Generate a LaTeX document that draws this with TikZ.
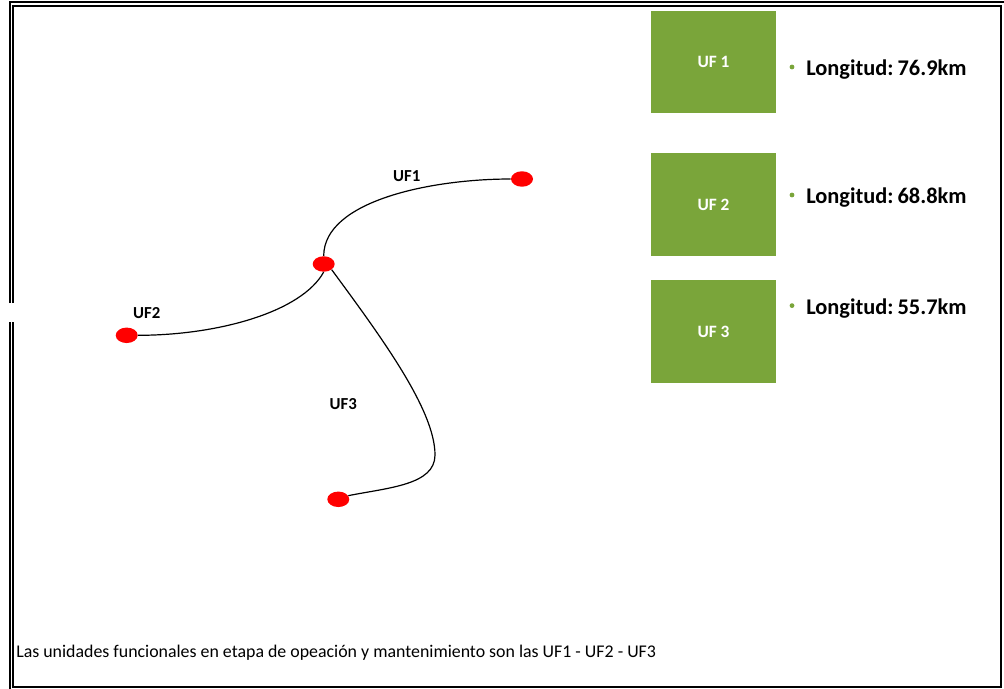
\documentclass[tikz,border=0pt]{standalone}
\usepackage{fontspec}
\setmainfont{Carlito}
\usetikzlibrary{shapes.geometric}
\definecolor{ufgreen}{RGB}{122,165,58}
\definecolor{ufred}{RGB}{255,0,0}
\begin{document}
\begin{tikzpicture}[x=0.75pt,y=-0.75pt,
  frame/.style={line width=1.5pt},
  site/.style={ellipse, fill=ufred, draw=none, minimum width=16.5pt, minimum height=11.6pt, inner sep=0pt},
  wire/.style={line width=0.9pt, black},
  wlabel/.style={font=\bfseries\fontsize{12.6}{14}\selectfont, inner sep=0pt},
  ufbox/.style={fill=ufgreen, minimum width=93.75pt, minimum height=77pt, inner sep=0pt, text=white, font=\bfseries\fontsize{13}{15}\selectfont},
  bulletdot/.style={circle, fill=ufgreen, minimum size=3.6pt, inner sep=0pt},
  lenlabel/.style={anchor=base west, inner sep=0pt, font=\bfseries\fontsize{16.8}{19}\selectfont},
  note/.style={anchor=base west, inner sep=0pt, font=\fontsize{13.4}{16}\selectfont}]
\useasboundingbox (0,0) rectangle (1004,689);
% frame
\draw[frame] (10,303) -- (10,2) -- (1004,2);
\draw[frame] (10,322) -- (10,689);
\draw[frame] (13,303) -- (13,6) -- (1001,6) -- (1001,687) -- (13,687) -- (13,322);
% sites
\node[site] (c) at (323.7,264) {};
\node[site] (n1) at (522,179) {};
\node[site] (n2) at (126.7,335.3) {};
\node[site] (n3) at (338.3,499.3) {};
\coordinate (bend) at (435,455);
% connectors
\draw[wire] (c.north) .. controls +(0,-55) and +(-80,0) .. (n1.west);
\draw[wire] (c.south) .. controls +(-22,40) and +(80,0) .. (n2.east);
\draw[wire] (c.south east) .. controls +(50,68) and +(0,-45) .. (bend) .. controls +(0,30) and +(40,-8) .. (n3.20);
% labels
\node[wlabel] (l1) at (406.7,176) {UF1};
\node[wlabel] (l2) at (146.7,313.3) {UF2};
\node[wlabel] (l3) at (343.3,404.3) {UF3};
% boxes
\node[ufbox] (b1) at (713.5,62) {UF 1};
\node[ufbox] (b2) at (713.5,204.5) {UF 2};
\node[ufbox] (b3) at (713.5,331.5) {UF 3};
\node[bulletdot] (d1) at (792,67) {};
\node[bulletdot] (d2) at (792,195) {};
\node[bulletdot] (d3) at (792,305.6) {};
\node[lenlabel] (t1) at (806,75) {Longitud:\hspace{3pt}76.9km};
\node[lenlabel] (t2) at (806,203) {Longitud:\hspace{3pt}68.8km};
\node[lenlabel] (t3) at (806,314) {Longitud:\hspace{3pt}55.7km};
\node[note] (nt) at (16,657) {Las unidades funcionales en etapa de opeación y mantenimiento son las UF1 - UF2 - UF3};
\end{tikzpicture}
\end{document}
